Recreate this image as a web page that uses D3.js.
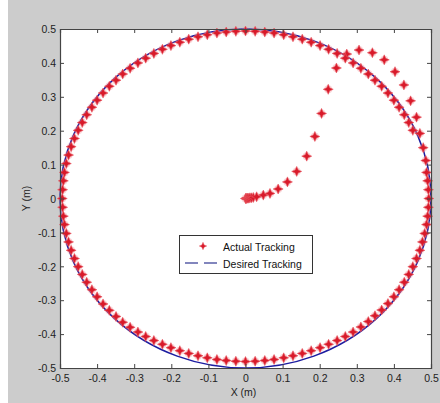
<!DOCTYPE html>
<html><head><meta charset="utf-8">
<script src="https://cdn.jsdelivr.net/npm/d3@7"></script>
<style>
html,body{margin:0;padding:0;background:#fff;}
svg{display:block;}
text{font-family:"Liberation Sans",Arial,sans-serif;}
</style></head>
<body>
<script>
// ---- data ----
const xTicks = [-0.5,-0.4,-0.3,-0.2,-0.1,0,0.1,0.2,0.3,0.4,0.5];
const yTicks = [-0.5,-0.4,-0.3,-0.2,-0.1,0,0.1,0.2,0.3,0.4,0.5];
const tickLabels = ["-0.5","-0.4","-0.3","-0.2","-0.1","0","0.1","0.2","0.3","0.4","0.5"];
const desiredRadius = [0.5];
const seriesNames = ["Actual Tracking","Desired Tracking"];
// approach (spiral from the origin)
const spiralX = [0.000,0.001,0.002,0.004,0.006,0.009,0.012,0.016,0.021,0.030,0.048,0.066,0.088,0.113,0.138,0.165,0.187,0.205,0.223,0.245,0.273,0.306,0.342,0.374,0.403,0.427,0.445,0.461,0.470,0.479,0.486];
const spiralY = [0.000,0.000,0.000,0.001,0.001,0.001,0.002,0.002,0.003,0.005,0.010,0.015,0.028,0.049,0.080,0.125,0.183,0.251,0.322,0.385,0.426,0.438,0.430,0.409,0.374,0.335,0.288,0.240,0.192,0.150,0.112];
// tracking along the circle
const orbitX = [0.488,0.491,0.493,0.494,
 0.493,0.491,0.488,0.483,0.477,0.470,0.461,0.451,0.440,0.428,0.414,0.400,0.384,0.367,0.349,0.331,0.311,0.290,0.269,0.247,0.224,0.201,0.177,0.153,0.128,0.103,0.077,0.052,0.026,0.000,
 -0.026,-0.052,-0.077,-0.103,-0.128,-0.153,-0.177,-0.201,-0.224,-0.247,-0.269,-0.290,-0.311,-0.331,-0.349,-0.367,-0.384,-0.400,-0.414,-0.428,-0.440,-0.451,-0.461,-0.470,-0.477,-0.483,-0.488,-0.491,-0.493,-0.494,
 -0.493,-0.491,-0.488,-0.483,-0.477,-0.470,-0.461,-0.451,-0.440,-0.428,-0.414,-0.400,-0.384,-0.367,-0.349,-0.331,-0.311,-0.290,-0.269,-0.247,-0.224,-0.201,-0.177,-0.153,-0.128,-0.103,-0.077,-0.052,-0.026,0.000,
 0.026,0.052,0.077,0.103,0.128,0.153,0.177,0.201,0.224,0.247,0.269,0.290,0.311,0.331,0.349,0.367,0.384,0.400,0.414,0.428,0.440,0.451];
const orbitY = [0.077,0.052,0.026,0.000,
 -0.026,-0.052,-0.077,-0.103,-0.128,-0.153,-0.177,-0.201,-0.224,-0.247,-0.269,-0.290,-0.310,-0.329,-0.346,-0.363,-0.379,-0.394,-0.407,-0.419,-0.430,-0.440,-0.449,-0.457,-0.464,-0.470,-0.475,-0.478,-0.480,-0.481,
 -0.480,-0.478,-0.475,-0.470,-0.464,-0.457,-0.449,-0.440,-0.430,-0.419,-0.407,-0.394,-0.380,-0.365,-0.348,-0.330,-0.311,-0.290,-0.269,-0.247,-0.224,-0.201,-0.177,-0.153,-0.128,-0.103,-0.077,-0.052,-0.026,0.000,
 0.026,0.052,0.077,0.103,0.128,0.153,0.177,0.201,0.224,0.247,0.269,0.290,0.311,0.331,0.349,0.367,0.384,0.400,0.414,0.428,0.440,0.451,0.461,0.470,0.477,0.483,0.488,0.491,0.493,0.494,
 0.493,0.491,0.488,0.483,0.477,0.470,0.461,0.451,0.440,0.428,0.414,0.400,0.384,0.367,0.349,0.331,0.311,0.290,0.269,0.247,0.224,0.201];

// ---- layout ----
const W = 440, H = 403;
const L = 60, R = 431, T = 29, B = 368;
const svg = d3.select("body").append("svg").attr("width", W).attr("height", H);
svg.append("rect").attr("x",8).attr("y",0).attr("width",W-8).attr("height",H).attr("fill","#cccccc");

const x = d3.scaleLinear().domain([-0.5,0.5]).range([L,R]);
const y = d3.scaleLinear().domain([-0.5,0.5]).range([B,T]);

svg.append("rect").attr("x",L).attr("y",T).attr("width",R-L).attr("height",B-T).attr("fill","#fff");

svg.append("clipPath").attr("id","pc").append("rect")
  .attr("x",L-6).attr("y",T-6).attr("width",R-L+12).attr("height",B-T+12);

const plot = svg.append("g").attr("clip-path","url(#pc)");

// desired circle
plot.selectAll("ellipse.des").data(desiredRadius).join("ellipse")
  .attr("class","des")
  .attr("cx", x(0)).attr("cy", y(0))
  .attr("rx", d => x(d) - x(0)).attr("ry", d => y(0) - y(d))
  .attr("fill","none").attr("stroke","#1c1ca0").attr("stroke-width",1.5);

// actual points
const pts = spiralX.map((v,i)=>({x:v,y:spiralY[i]})).concat(orbitX.map((v,i)=>({x:v,y:orbitY[i]})));
const s = 5.0, w = 1.5;
const star = `M0,${-s}L${w},${-w}L${s},0L${w},${w}L0,${s}L${-w},${w}L${-s},0L${-w},${-w}Z`;
const halo = plot.append("g").attr("opacity",0.3);
halo.selectAll("circle").data(pts).join("circle")
  .attr("cx", d => x(d.x)).attr("cy", d => y(d.y)).attr("r", 4.0)
  .attr("fill","#f07a82");
plot.selectAll("path.act").data(pts).join("path")
  .attr("class","act")
  .attr("transform", d => `translate(${x(d.x)},${y(d.y)})`)
  .attr("d", star)
  .attr("fill","#d81a2a")
  .attr("stroke","#e85862").attr("stroke-width",0.6);

// axes
const axColor = "#444";
const gx = svg.append("g").attr("transform",`translate(0,${B})`)
  .call(d3.axisBottom(x).tickValues(xTicks).tickSize(-4).tickPadding(7).tickFormat((d,i)=>tickLabels[i]));
const gxt = svg.append("g").attr("transform",`translate(0,${T})`)
  .call(d3.axisTop(x).tickValues(xTicks).tickSize(-4).tickFormat(""));
const gy = svg.append("g").attr("transform",`translate(${L},0)`)
  .call(d3.axisLeft(y).tickValues(yTicks).tickSize(-4).tickPadding(4).tickFormat((d,i)=>tickLabels[i]));
const gyr = svg.append("g").attr("transform",`translate(${R},0)`)
  .call(d3.axisRight(y).tickValues(yTicks).tickSize(-4).tickFormat(""));
[gx,gxt,gy,gyr].forEach(g=>{
  g.select(".domain").attr("stroke",axColor).attr("stroke-width",1.2);
  g.selectAll(".tick line").attr("stroke",axColor);
  g.selectAll("text").attr("fill","#222").attr("font-size","10.5px")
   .attr("font-family","'Liberation Sans',Arial,sans-serif");
});
gy.selectAll("text").attr("dy","0.36em");

// axis labels
svg.append("text").attr("x",(L+R)/2 - 2).attr("y",396).attr("text-anchor","middle")
  .attr("font-size","10.5px").attr("fill","#222").text("X (m)");
svg.append("text").attr("transform",`translate(30,${(T+B)/2}) rotate(-90)`).attr("text-anchor","middle")
  .attr("font-size","10.5px").attr("fill","#222").text("Y (m)");

// legend
const lg = svg.append("g");
lg.append("rect").attr("x",179.5).attr("y",235.5).attr("width",133).attr("height",38)
  .attr("fill","#fff").attr("stroke","#333").attr("stroke-width",1);
lg.append("path").attr("d",star)
  .attr("fill","#d81a2a").attr("stroke","#e85862").attr("stroke-width",0.6)
  .attr("transform","translate(203,246) scale(0.75)");
lg.append("line").attr("x1",185).attr("x2",219).attr("y1",263).attr("y2",263)
  .attr("stroke","#5a5fa8").attr("stroke-width",1.4).attr("stroke-dasharray","13,6");
lg.selectAll("text.lt").data(seriesNames).join("text").attr("class","lt")
  .attr("x",223).attr("y",(d,i)=>251 + i*17)
  .attr("font-size","10.5px").attr("fill","#111").text(d=>d);
</script>
</body></html>
